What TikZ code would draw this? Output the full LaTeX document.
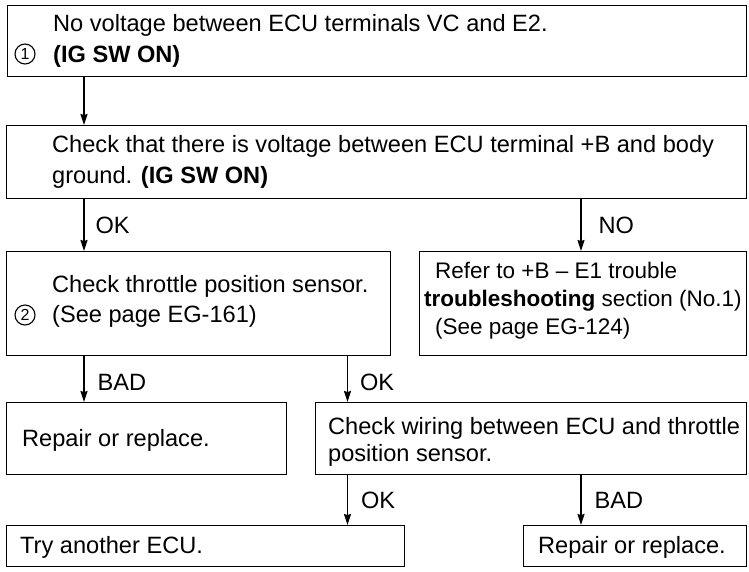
\documentclass[tikz,border=0pt]{standalone}
\usepackage{fontspec}
\setmainfont{Liberation Sans}
\usetikzlibrary{arrows.meta}
\begin{document}
\begin{tikzpicture}[x=1pt,y=-1pt,
  box/.style={draw, line width=1.3pt, anchor=north west, inner sep=0pt},
  txt/.style={anchor=west, align=left, inner sep=0pt, font=\fontsize{23.6}{30}\selectfont},
  lbl/.style={anchor=west, inner sep=0pt, font=\fontsize{23.6}{28}\selectfont},
  arr/.style={line width=1.2pt, -{Stealth[length=11pt,width=7pt,inset=1pt]}},
  num/.style={circle, draw, line width=1.1pt, minimum size=20pt, inner sep=0pt, font=\fontsize{16}{16}\selectfont}]
\useasboundingbox (0,0) rectangle (749,571);
% boxes
\node[box, minimum width=739pt, minimum height=71pt] (b1) at (7,5) {};
\node[box, minimum width=740pt, minimum height=73pt] (b2) at (6,125) {};
\node[box, minimum width=384pt, minimum height=104pt] (b3) at (6,251) {};
\node[box, minimum width=327pt, minimum height=104pt] (b4) at (419,251) {};
\node[box, minimum width=280pt, minimum height=72pt] (b5) at (6,402) {};
\node[box, minimum width=431pt, minimum height=72pt] (b6) at (315,402) {};
\node[box, minimum width=398pt, minimum height=41pt] (b7) at (6,525) {};
\node[box, minimum width=223pt, minimum height=41pt] (b8) at (523,525) {};
% texts
\node[txt, font=\fontsize{23.6}{31}\selectfont] (t1) at ([xshift=46pt,yshift=0pt]b1.west)
  {No voltage between ECU terminals VC and E2.\\\textbf{(IG SW ON)}};
\node[num] (n1) at (25,54) {1};
\node[txt, font=\fontsize{23.6}{31}\selectfont] (t2) at ([xshift=46pt]b2.west)
  {Check that there is voltage between ECU terminal +B and body\\ground. \textbf{(IG SW ON)}};
\node[txt] (t3) at ([xshift=46pt,yshift=2pt]b3.west)
  {Check throttle position sensor.\\(See page EG-161)};
\node[num] (n2) at (25,315) {2};
\node[txt, font=\fontsize{22.5}{28}\selectfont] (t4) at ([xshift=5pt,yshift=3pt]b4.west)
  {\hspace*{11pt}Refer to +B – E1 trouble\\\textbf{troubleshooting} section (No.1)\\\hspace*{11pt}(See page EG-124)};
\node[txt] (t5) at ([xshift=16pt,yshift=-2pt]b5.west) {Repair or replace.};
\node[txt, font=\fontsize{23.6}{27}\selectfont] (t6) at ([xshift=13pt,yshift=-3pt]b6.west)
  {Check wiring between ECU and throttle\\position sensor.};
\node[txt] (t7) at ([xshift=14pt,yshift=-1pt]b7.west) {Try another ECU.};
\node[txt] (t8) at ([xshift=15pt,yshift=-1pt]b8.west) {Repair or replace.};
% connectors
\coordinate (xa) at (84,0);
\coordinate (xb) at (347.5,0);
\coordinate (xc) at (581,0);
\draw[arr] (b1.south -| xa) -- (b2.north -| xa);
\draw[arr] (b2.south -| xa) -- node[lbl, xshift=11pt] (l1) {OK} (b3.north -| xa);
\draw[arr] (b2.south -| xc) -- node[lbl, xshift=17pt] (l2) {NO} (b4.north -| xc);
\draw[arr] (b3.south -| xa) -- node[lbl, xshift=13pt, yshift=-3pt] (l3) {BAD} (b5.north -| xa);
\draw[arr] (b3.south -| xb) -- node[lbl, xshift=12pt, yshift=-3pt] (l4) {OK} (b6.north -| xb);
\draw[arr] (b6.south -| xb) -- node[lbl, xshift=13pt] (l5) {OK} (b7.north -| xb);
\draw[arr] (b6.south -| xc) -- node[lbl, xshift=13pt] (l6) {BAD} (b8.north -| xc);
\end{tikzpicture}
\end{document}
